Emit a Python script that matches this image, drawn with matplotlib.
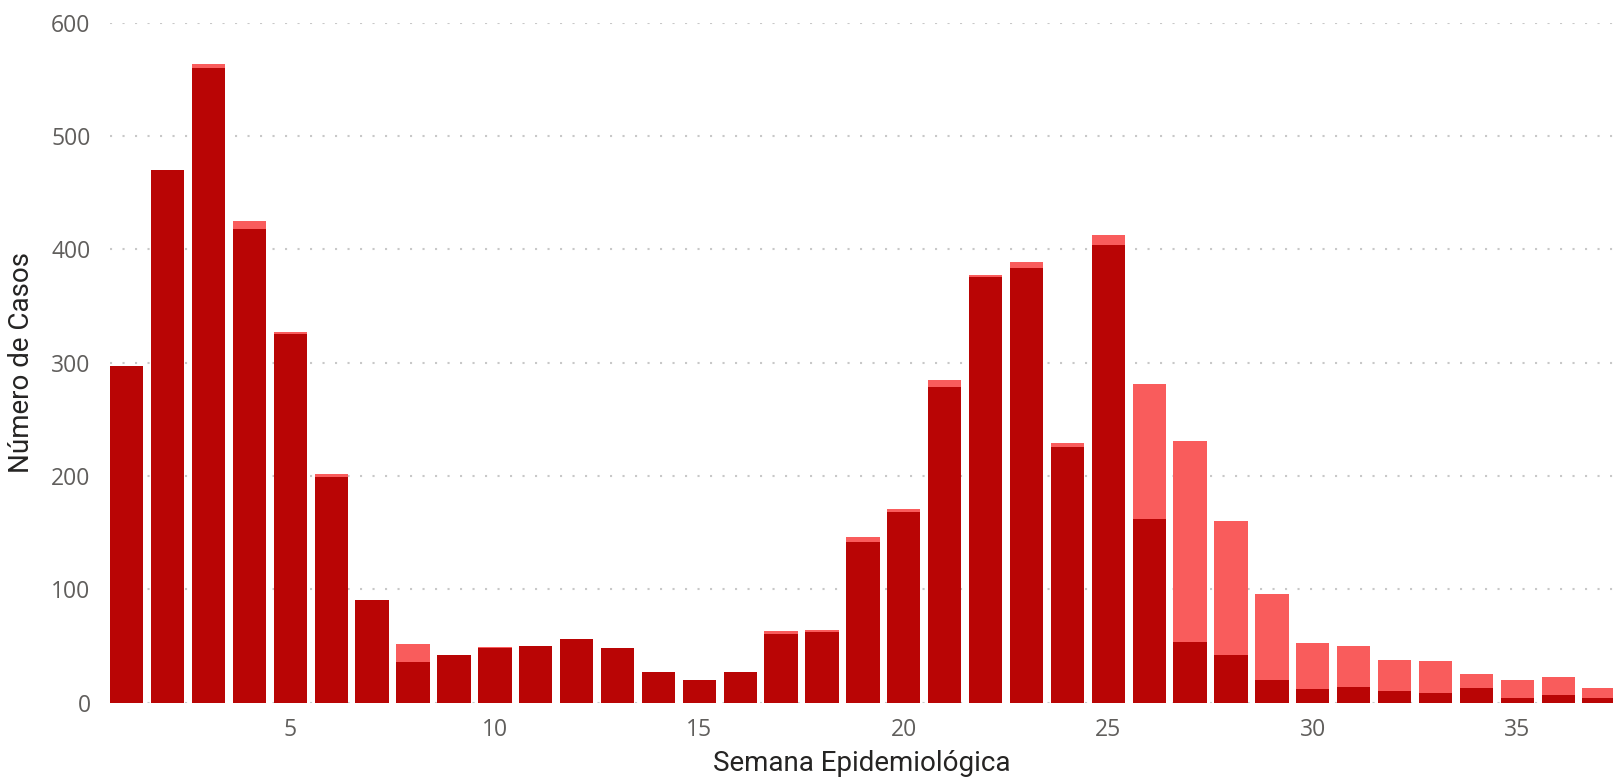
import matplotlib
matplotlib.use("Agg")
from matplotlib import pyplot as plt

# Casos por semana epidemiológica
semanas = list(range(1, 38))
casos_oscuro = [297, 470, 560, 418, 325, 199, 91, 36, 42, 48,
                50, 56, 48, 27, 20, 27, 61, 62, 142, 168,
                279, 376, 384, 226, 404, 162, 54, 42, 20, 12,
                14, 10, 9, 13, 4, 7, 4]
casos_total = [297, 470, 564, 425, 327, 202, 91, 52, 42, 49,
               50, 56, 48, 27, 20, 27, 63, 64, 146, 171,
               285, 377, 389, 229, 413, 281, 231, 160, 96, 53,
               50, 38, 37, 25, 20, 23, 13]
casos_claro = [t - d for t, d in zip(casos_total, casos_oscuro)]

color_oscuro = '#B90505'
color_claro = '#F95C5C'

fig = plt.figure(figsize=(16.13, 7.77), dpi=100)
ax = fig.add_axes([110/1613, 1 - 702.7/777, 1 - 110/1613, (702.7 - 22.7)/777])

ax.bar(semanas, casos_oscuro, width=0.815, color=color_oscuro, zorder=3)
ax.bar(semanas, casos_claro, width=0.815, bottom=casos_oscuro, color=color_claro, zorder=3)

ax.set_xlim(0.59, 37.34)
ax.set_ylim(0, 600)
ax.set_yticks(range(0, 601, 100))
ax.set_xticks([5, 10, 15, 20, 25, 30, 35])

ax.grid(axis='y', color='#c8c8c8', linestyle=(0, (1, 5)), linewidth=1.5, zorder=0)
ax.grid(axis='x', visible=False)
for s in ax.spines.values():
    s.set_visible(False)

ax.tick_params(axis='both', length=0, labelsize=16.5, labelcolor='#605E5C')
ax.tick_params(axis='y', pad=14)
ax.tick_params(axis='x', pad=11)
for lbl in ax.get_xticklabels() + ax.get_yticklabels():
    lbl.set_fontfamily('Open Sans')

ax.set_xlabel('Semana Epidemiológica', fontsize=20, color='#252423', family='Roboto', labelpad=6)
ax.set_ylabel('Número de Casos', fontsize=20, color='#252423', family='Roboto', labelpad=12)

fig.savefig('out.png', dpi=100)
